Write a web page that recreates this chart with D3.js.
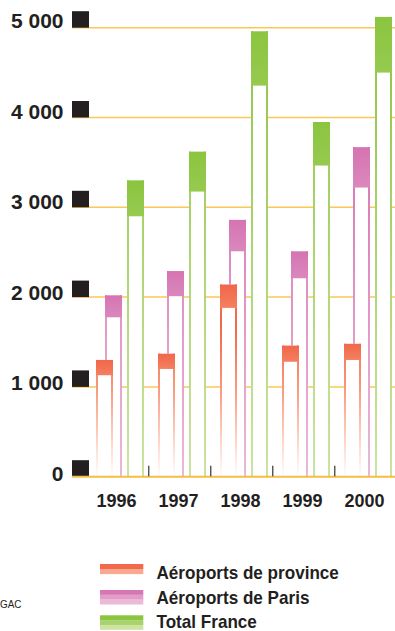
<!DOCTYPE html>
<html>
<head>
<meta charset="utf-8">
<script src="https://cdn.jsdelivr.net/npm/d3@7/dist/d3.min.js"></script>
<style>
  html, body { margin: 0; padding: 0; background: #fff; }
  svg { display: block; }
  text { font-family: "Liberation Sans", Arial, Helvetica, sans-serif; fill: #231f20; }
</style>
</head>
<body>
<svg id="chart" width="395" height="631"></svg>
<script>
// Years on the x axis
const years = ["1996", "1997", "1998", "1999", "2000"];

// Each bar: outline height (top) and the level where the solid cap starts (base)
const provinceTop  = [1300, 1370, 2140, 1460, 1480];
const provinceBase = [1130, 1200, 1880, 1280, 1300];
const parisTop     = [2020, 2290, 2860, 2510, 3670];
const parisBase    = [1775, 2010, 2510, 2210, 3220];
const totalTop     = [3300, 3620, 4960, 3950, 5120];
const totalBase    = [2900, 3175, 4355, 3465, 4500];

// Value axis ticks
const yTicks = [0, 1000, 2000, 3000, 4000, 5000];

// Series names shown in the legend
const seriesNames = ["Aéroports de province", "Aéroports de Paris", "Total France"];

const series = [
  { key: "province", name: seriesNames[0], top: provinceTop, base: provinceBase },
  { key: "paris",    name: seriesNames[1], top: parisTop,    base: parisBase },
  { key: "total",    name: seriesNames[2], top: totalTop,    base: totalBase }
];

const style = {
  province: { cap: ["#f1664a", "#f4805f"], line: [[0, "#f26a4b"], [0.4, "#f8997c"], [0.75, "#fcd2c3"], [1, "#fffaf8"]], lineY: [330, 474], band: ["#f26a4b", "#f9a98f"], offset: 0 },
  paris:    { cap: ["#d574b2", "#da88bc"], line: [[0, "#d677b3"], [1, "#ebb8d8"]], lineY: [150, 476], band: ["#d677b3", "#e29cc8", "#ecbad8"], offset: 9 },
  total:    { cap: ["#8bc53f", "#96ca50"], line: [[0, "#8cc540"], [1, "#cbe4a0"]], lineY: [20, 476], band: ["#8cc540", "#a8d26d", "#cbe49f"], offset: 31 }
};

const svg = d3.select("#chart");
const defs = svg.append("defs");

const y = d3.scaleLinear().domain([0, 5000]).range([476.7, 27.7]);
// tick labels sit on a slightly wider spacing than the gridlines
const yLabel = d3.scaleLinear().domain([0, 5000]).range([480.7, 28.3]);
const x = d3.scaleBand().domain(years).range([96, 392]).paddingInner(14 / 62).paddingOuter(0).align(0);

const fr = d3.formatLocale({ decimal: ",", thousands: " ", grouping: [3], currency: ["", " €"] });
const fmt = fr.format(",d");

const barW = 17, border = 2;

// gradients
series.forEach(s => {
  const st = style[s.key];
  const lg = defs.append("linearGradient").attr("id", "line-" + s.key)
    .attr("gradientUnits", "userSpaceOnUse")
    .attr("x1", 0).attr("x2", 0).attr("y1", st.lineY[0]).attr("y2", st.lineY[1]);
  st.line.forEach(([o, c]) => lg.append("stop").attr("offset", o).attr("stop-color", c));
  const cg = defs.append("linearGradient").attr("id", "cap-" + s.key)
    .attr("x1", 0).attr("x2", 0).attr("y1", 0).attr("y2", 1);
  cg.append("stop").attr("offset", 0).attr("stop-color", st.cap[0]);
  cg.append("stop").attr("offset", 1).attr("stop-color", st.cap[1]);
});

// gridlines
svg.append("g").selectAll("line").data(yTicks.filter(d => d > 0)).join("line")
  .attr("x1", 72).attr("x2", 395)
  .attr("y1", d => y(d)).attr("y2", d => y(d))
  .attr("stroke", "#fbc757").attr("stroke-width", 1.5);

// bars: total first, then Paris, then province on top
const order = [series[2], series[1], series[0]];
order.forEach(s => {
  const st = style[s.key];
  const g = svg.append("g").attr("class", "bars-" + s.key);
  const data = years.map((yr, i) => ({ yr, top: s.top[i], base: s.base[i] }));
  const bar = g.selectAll("g").data(data).join("g")
    .attr("transform", d => `translate(${x(d.yr) + st.offset},0)`);
  bar.append("rect").attr("x", 0).attr("width", barW)
    .attr("y", d => y(d.top)).attr("height", d => y(0) - y(d.top))
    .attr("fill", "#fff");
  [0, barW - border].forEach(dx => {
    bar.append("rect").attr("x", dx).attr("width", border)
      .attr("y", d => y(d.top)).attr("height", d => y(0) - y(d.top))
      .attr("fill", `url(#line-${s.key})`);
  });
  bar.append("rect").attr("x", 0).attr("width", barW)
    .attr("y", d => y(d.top)).attr("height", d => y(d.base) - y(d.top))
    .attr("fill", `url(#cap-${s.key})`);
});

// axis squares and labels
const axis = svg.append("g");
axis.selectAll("rect").data(yTicks).join("rect")
  .attr("x", 72).attr("width", 17)
  .attr("y", d => y(d) - 16.5).attr("height", 16.5)
  .attr("fill", "#231f20");
axis.selectAll("text").data(yTicks).join("text")
  .attr("x", 63.5).attr("y", d => yLabel(d))
  .attr("text-anchor", "end")
  .attr("font-size", 21).attr("font-weight", "bold")
  .text(d => fmt(d));

// zero baseline
svg.append("line").attr("x1", 72).attr("x2", 395)
  .attr("y1", y(0)).attr("y2", y(0))
  .attr("stroke", "#f6bd45").attr("stroke-width", 2);

// separators between years
svg.append("g").selectAll("line").data(years.slice(0, -1)).join("line")
  .attr("x1", d => x(d) + 52.8).attr("x2", d => x(d) + 52.8)
  .attr("y1", 465.8).attr("y2", y(0) - 0.5)
  .attr("stroke", "#231f20").attr("stroke-width", 1.1);

// year labels
svg.append("g").selectAll("text").data(years).join("text")
  .attr("x", d => x(d) + 20.5).attr("y", 506.5)
  .attr("text-anchor", "middle")
  .attr("font-size", 18).attr("font-weight", "bold")
  .text(d => d);

// source note
svg.append("text")
  .attr("transform", "translate(0,608.3) scale(0.9,1)")
  .attr("font-size", 11)
  .text("GAC");

// legend
const legendY = [564, 590, 615.3];
const baseY = [578.7, 604, 628];
const legend = svg.append("g");
series.forEach((s, i) => {
  const bands = style[s.key].band;
  const bandH = bands.length === 2 ? 5 : 4.8;
  bands.forEach((c, j) => {
    legend.append("rect").attr("x", 100).attr("width", 43.3)
      .attr("y", legendY[i] + j * bandH).attr("height", bandH + 0.1)
      .attr("fill", c);
  });
  legend.append("text")
    .attr("transform", `translate(156.5,${baseY[i]}) scale(0.95,1)`)
    .attr("font-size", 18).attr("font-weight", "bold")
    .text(s.name);
});
</script>
</body>
</html>
